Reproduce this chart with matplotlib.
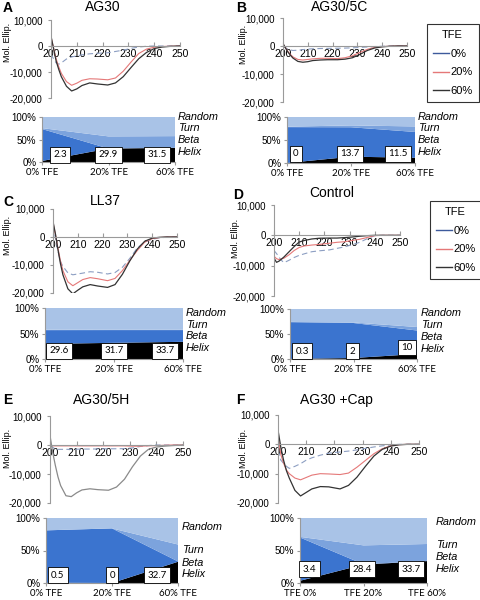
import matplotlib
matplotlib.use('Agg')
import matplotlib.pyplot as plt
from matplotlib.lines import Line2D

plt.rcParams['font.family'] = ['Liberation Sans', 'DejaVu Sans']

# wavelength grid (nm) shared by all CD spectra
wl = [200, 201, 202, 203, 204, 206, 208, 210, 212, 215, 218, 222, 225, 228, 231, 234, 237, 240, 243, 246, 250]

# CD spectra (mol. ellipticity) for 0%, 20%, 60% TFE
a_0 = [-3000, -5000, -6500, -7000, -6500, -5000, -4200, -3800, -3400, -3000, -2800, -2600, -2100, -1600, -900, -400, -100, 0, 0, 0, 0]
a_20 = [3500, -800, -5000, -8000, -10500, -13700, -15100, -14300, -13200, -12600, -12700, -13000, -12300, -9700, -6200, -2900, -1200, -500, -200, -100, 0]
a_60 = [3800, -1000, -5800, -9000, -11800, -15500, -17300, -16500, -15200, -14200, -14600, -15000, -14200, -11800, -8300, -4900, -2500, -1000, -400, -150, 0]

b_0 = [0, -600, -1100, -1400, -1600, -1500, -1300, -1100, -1000, -900, -850, -800, -750, -650, -500, -350, -200, -100, 0, 0, 0]
b_20 = [700, -600, -2000, -3000, -3900, -4800, -5000, -4800, -4600, -4400, -4400, -4500, -4200, -3500, -2300, -1200, -500, -200, -100, 0, 0]
b_60 = [900, -700, -2200, -3300, -4300, -5500, -5800, -5600, -5200, -5000, -4900, -4900, -4700, -4200, -3000, -1600, -700, -300, -100, 0, 0]

c_0 = [4000, -500, -5000, -8700, -10500, -12800, -13500, -13200, -12900, -12400, -12600, -13200, -12700, -10800, -7600, -3900, -1800, -800, -300, -50, 0]
c_20 = [5000, 800, -4000, -8500, -12000, -16000, -17400, -16300, -15200, -14500, -14900, -15600, -14800, -12000, -8300, -4800, -1800, -600, -200, 0, 0]
c_60 = [5600, 1000, -4500, -9500, -13500, -18500, -20300, -19000, -17800, -17000, -17500, -18000, -17000, -13300, -8500, -4300, -1500, -400, -100, 0, 0]

d_0 = [-5000, -6000, -7200, -8300, -9000, -8200, -7300, -6600, -6100, -5400, -5100, -4800, -4300, -3800, -3100, -2300, -1100, -100, 0, 0, 0]
d_20 = [-6900, -7700, -8000, -7800, -7500, -6400, -5000, -4000, -3500, -3200, -3000, -2600, -2300, -2100, -1700, -1300, -700, -100, 0, 0, 0]
d_60 = [-7500, -8900, -8500, -7800, -7100, -5400, -3700, -2200, -1700, -1200, -950, -900, -900, -750, -550, -300, -100, 0, 0, 0, 0]

e_0 = [0, -800, -1400, -1500, -1500, -1500, -1500, -1450, -1400, -1400, -1350, -1300, -1300, -1250, -1000, -500, -200, 0, 0, 0, 0]
e_20 = [200, -300, -300, -300, -300, -300, -300, -300, -300, -300, -300, -300, -300, -300, -400, -400, -300, -200, -100, 0, 0]
e_60 = [3300, -2500, -7000, -11000, -14000, -17500, -17800, -16500, -15500, -15100, -15400, -15600, -14500, -11800, -7500, -3800, -1500, -700, -400, -200, 0]

f_0 = [-2000, -5400, -6500, -7500, -8200, -7500, -6600, -5400, -4600, -3700, -3000, -2600, -2300, -1900, -1400, -900, -500, -200, 0, 0, 0]
f_20 = [3000, -3500, -6500, -8800, -10000, -11500, -12100, -11300, -10500, -10000, -10100, -10300, -9800, -7800, -5500, -3200, -1500, -500, -100, 0, 0]
f_60 = [4900, -1000, -5500, -9000, -11500, -15700, -17600, -16400, -15200, -14400, -14500, -15200, -14000, -11200, -7500, -4000, -1700, -600, -150, 0, 0]

# secondary structure composition (%) at 0%, 20%, 60% TFE
helix_a = [2.3, 29.9, 31.5]
beta_a = [71, 0, 0]
turn_a = [2, 27, 26]

helix_b = [0, 13.7, 11.5]
beta_b = [78, 64, 56]
turn_b = [1, 4, 12]

helix_c = [29.6, 31.7, 33.7]
beta_c = [27, 25, 23]
turn_c = [1, 1, 1]

helix_d = [0.3, 2, 10]
beta_d = [73.4, 70, 47]
turn_d = [0.5, 1, 7]

helix_e = [0.5, 0, 32.7]
beta_e = [80.5, 84, 0.5]
turn_e = [0, 0, 26]

helix_f = [3.4, 28.4, 33.7]
beta_f = [66.6, 0.5, 0.3]
turn_f = [1, 29, 26]

tfe_labels = ['0% TFE', '20% TFE', '60% TFE']
tfe_labels_f = ['TFE 0%', 'TFE 20%', 'TFE 60%']
legend_labels = ['0%', '20%', '60%']

W, H = 480, 600
col_random = '#a9c3e7'
col_turn = '#7ca3dd'
col_beta = '#3b74cf'
col_0 = '#8c9ec2'
col_20 = '#e57878'
col_60 = '#333333'
axis_col = '#9a9a9a'

fig = plt.figure(figsize=(4.8, 6), dpi=100)


def box(x0, y0, x1, y1):
    return [x0 / W, 1 - y1 / H, (x1 - x0) / W, (y1 - y0) / H]


def ftext(x, y, s, **kw):
    fig.text(x / W, 1 - y / H, s, **kw)


def curve_panel(rect, c0, c20, c60, col60=col_60):
    ax = fig.add_axes(box(*rect))
    ax.plot(wl, c0, color=col_0, lw=0.8, ls=(0, (5, 3)))
    ax.plot(wl, c20, color=col_20, lw=0.8)
    ax.plot(wl, c60, color=col60, lw=0.9)
    ax.set_xlim(200, 250)
    ax.set_ylim(-20000, 10000)
    for s in ['top', 'right']:
        ax.spines[s].set_visible(False)
    ax.spines['bottom'].set_position(('data', 0))
    for s in ['left', 'bottom']:
        ax.spines[s].set_color(axis_col)
        ax.spines[s].set_linewidth(0.8)
    ax.set_xticks([200, 210, 220, 230, 240, 250])
    ax.set_yticks([-20000, -10000, 0, 10000])
    ax.set_yticklabels(['-20,000', '-10,000', '0', '10,000'])
    ax.tick_params(axis='x', direction='in', length=3, color=axis_col, labelsize=7.5, pad=2)
    ax.tick_params(axis='y', direction='out', length=2, color=axis_col, labelsize=7, pad=4)
    return ax


def area_panel(rect, helix, beta, turn, xlabels, box_x, box_y):
    ax = fig.add_axes(box(*rect))
    rand = [100 - h - b - t for h, b, t in zip(helix, beta, turn)]
    x = [0, 1, 2]
    ax.stackplot(x, helix, beta, turn, rand,
                 colors=['black', col_beta, col_turn, col_random], lw=0)
    ax.set_xlim(0, 2)
    ax.set_ylim(0, 100)
    for s in ['top', 'right']:
        ax.spines[s].set_visible(False)
    for s in ['left', 'bottom']:
        ax.spines[s].set_color(axis_col)
        ax.spines[s].set_linewidth(0.8)
    ax.set_yticks([0, 50, 100])
    ax.set_yticklabels(['0%', '50%', '100%'])
    ax.set_xticks(x)
    ax.set_xticklabels(xlabels, family=['Lato', 'DejaVu Sans'], fontsize=7.5)
    ax.tick_params(axis='both', length=2, color=axis_col, labelsize=7, pad=2)
    for i, h in enumerate(helix):
        ax.text(box_x[i], box_y[i], '%g' % h, ha='center', va='center', fontsize=7,
                family=['Lato', 'DejaVu Sans'],
                bbox=dict(boxstyle='square,pad=0.35', fc='white', ec='black', lw=0.6))
    return ax


def struct_labels(x, ys):
    for name, y in zip(['Random', 'Turn', 'Beta', 'Helix'], ys):
        ftext(x, y, name, fontsize=7.8, style='italic', va='center')


def legend_box(x, y):
    handles = [Line2D([], [], color='#3d5a9c', lw=1),
               Line2D([], [], color=col_20, lw=1),
               Line2D([], [], color=col_60, lw=1)]
    lg = fig.legend(handles, legend_labels, title='TFE', loc='upper left',
                    bbox_to_anchor=(x / W, 1 - y / H), fontsize=8, title_fontsize=8,
                    frameon=True, fancybox=False, edgecolor='black', handlelength=1.5,
                    handletextpad=0.1, labelspacing=0.8, borderpad=0.55)
    lg.get_frame().set_linewidth(0.8)


# ---- A ----
curve_panel((51, 20, 180, 98), a_0, a_20, a_60)
area_panel((42, 117, 175, 162), helix_a, beta_a, turn_a, tfe_labels, [0.27, 1.0, 1.73], [16, 16, 16])
struct_labels(178, [117, 128, 140, 152])
ftext(3, 8, 'A', fontsize=10, weight='bold', va='center')
ftext(103, 7, 'AG30', fontsize=10, ha='center', va='center')
ftext(7, 42, 'Mol. Ellip.', fontsize=6.5, rotation=90, ha='center', va='center')

# ---- B ----
curve_panel((283, 18, 407, 102), b_0, b_20, b_60)
area_panel((287, 117, 415, 163), helix_b, beta_b, turn_b, tfe_labels, [0.14, 0.98, 1.73], [20, 20, 20])
struct_labels(418, [117, 128, 140, 152])
ftext(236, 8, 'B', fontsize=10, weight='bold', va='center')
ftext(340, 7, 'AG30/5C', fontsize=10, ha='center', va='center')
ftext(243, 44, 'Mol. Ellip.', fontsize=6.5, rotation=90, ha='center', va='center')
legend_box(421, 18)

# ---- C ----
curve_panel((53, 209, 177, 293), c_0, c_20, c_60)
area_panel((45, 308, 183, 359), helix_c, beta_c, turn_c, tfe_labels, [0.2, 1.0, 1.74], [16, 16, 16])
struct_labels(186, [313, 325, 336, 348])
ftext(3, 202, 'C', fontsize=10, weight='bold', va='center')
ftext(105, 201, 'LL37', fontsize=10, ha='center', va='center')
ftext(7, 235, 'Mol. Ellip.', fontsize=6.5, rotation=90, ha='center', va='center')

# ---- D ----
curve_panel((274, 205, 400, 296), d_0, d_20, d_60)
area_panel((290, 309, 417, 359), helix_d, beta_d, turn_d, tfe_labels, [0.19, 0.98, 1.84], [16, 16, 23])
struct_labels(421, [313, 325, 337, 349])
ftext(233, 195, 'D', fontsize=10, weight='bold', va='center')
ftext(332, 193, 'Control', fontsize=10, ha='center', va='center')
ftext(236, 238, 'Mol. Ellip.', fontsize=6.5, rotation=90, ha='center', va='center')
legend_box(424, 195)

# ---- E ----
curve_panel((50, 416, 183, 503), e_0, e_20, e_60, col60='#8a8a8a')
area_panel((46, 518, 178, 583), helix_e, beta_e, turn_e, tfe_labels, [0.18, 1.0, 1.68], [12, 12, 12])
struct_labels(182, [527, 550, 563, 574])
ftext(3, 400, 'E', fontsize=10, weight='bold', va='center')
ftext(102, 400, 'AG30/5H', fontsize=10, ha='center', va='center')
ftext(7, 448, 'Mol. Ellip.', fontsize=6.5, rotation=90, ha='center', va='center')

# ---- F ----
curve_panel((278, 415, 419, 503), f_0, f_20, f_60)
area_panel((300, 518, 427, 583), helix_f, beta_f, turn_f, tfe_labels_f, [0.15, 0.98, 1.75], [21, 21, 21])
struct_labels(436, [522, 545, 557, 569])
ftext(236, 400, 'F', fontsize=10, weight='bold', va='center')
ftext(336, 400, 'AG30 +Cap', fontsize=10, ha='center', va='center')
ftext(243, 448, 'Mol. Ellip.', fontsize=6.5, rotation=90, ha='center', va='center')

fig.savefig('out.png', dpi=100)
